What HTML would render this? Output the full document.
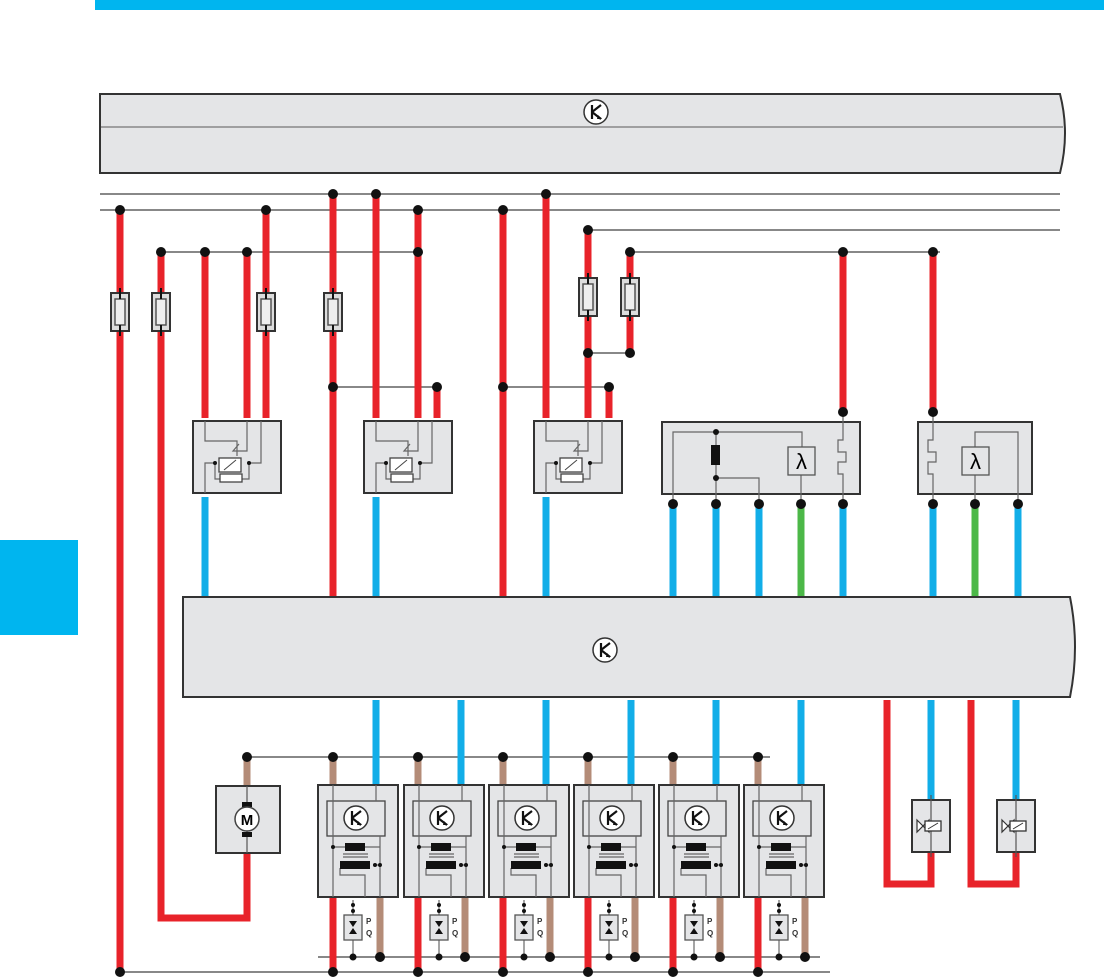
<!DOCTYPE html>
<html><head><meta charset="utf-8"><style>
html,body{margin:0;padding:0;background:#fff;width:1104px;height:980px;overflow:hidden}
svg{display:block}
text{font-family:"Liberation Sans",sans-serif}
</style></head><body>
<svg width="1104" height="980" viewBox="0 0 1104 980" xmlns="http://www.w3.org/2000/svg">
<defs>
<g id="tr"><circle cx="0" cy="0" r="12" fill="#fff" stroke="#333" stroke-width="1.5"/><path d="M-4,-7V7M-4,0L5,-7M-4,0L5,7" stroke="#111" stroke-width="2.2" fill="none"/><path d="M2,3L6,7L1,7z" fill="#111"/></g>
<g id="fuse"><rect x="-9" y="-19" width="18" height="38" fill="#ddd" stroke="#333" stroke-width="2"/><rect x="-5" y="-13" width="10" height="26" fill="#eee" stroke="#555" stroke-width="1.5"/><path d="M0,-24V-13M0,13V24" stroke="#111" stroke-width="2"/></g>
<g id="relay"><rect x="0" y="0" width="88" height="72" fill="#e4e5e7" stroke="#333" stroke-width="2"/>
<path d="M12,0V20H44V35M54,0V30H40L46,23M68,0V42H56M12,72V42H22M22,42V58H56V42" stroke="#666" stroke-width="1.2" fill="none"/>
<rect x="26" y="37" width="22" height="14" fill="#fff" stroke="#444" stroke-width="1.3"/><path d="M31,49L43,39" stroke="#444"/>
<rect x="27" y="53" width="22" height="8" fill="#fff" stroke="#444" stroke-width="1.3"/>
<circle cx="22" cy="42" r="2" fill="#111"/><circle cx="56" cy="42" r="2" fill="#111"/></g>
<g id="mod"><rect x="0" y="0" width="80" height="112" fill="#e4e5e7" stroke="#333" stroke-width="2"/>
<rect x="9" y="16" width="58" height="35" fill="#e4e5e7" stroke="#444" stroke-width="1.3"/>
<use href="#tr" x="38" y="33"/>
<path d="M15,0V112M58,0V16M62,51V112M62,51V62H47M15,62H27M22,83V90H47V112M55,80H62" stroke="#666" stroke-width="1.2" fill="none"/>
<rect x="27" y="58" width="20" height="8" fill="#111"/><path d="M25,69H50M25,72H50" stroke="#666" stroke-width="1.2"/>
<rect x="22" y="76" width="30" height="8" fill="#111"/><circle cx="15" cy="62" r="2" fill="#111"/><circle cx="62" cy="80" r="2" fill="#111"/><circle cx="57" cy="80" r="2" fill="#111"/></g>
<g id="pq"><path d="M35,115V172" stroke="#666" stroke-width="1.2"/><rect x="26" y="130" width="18" height="25" fill="#e4e5e7" stroke="#555" stroke-width="1.3"/>
<path d="M31,136H39L35,142zM31,149H39L35,143z" fill="#111"/><circle cx="35" cy="120" r="2" fill="#111"/><circle cx="35" cy="126" r="2" fill="#111"/><circle cx="35" cy="172" r="3.5" fill="#111"/></g>
<g id="valve"><rect x="0" y="0" width="38" height="52" fill="#e4e5e7" stroke="#333" stroke-width="2"/><path d="M19,-5V57" stroke="#555" stroke-width="1.2"/><path d="M5,20L11,26L5,32zM17,20L11,26L17,32z" fill="#fff" stroke="#333" stroke-width="1.2"/><rect x="13" y="21" width="16" height="10" fill="#fff" stroke="#333" stroke-width="1.3"/><path d="M16,29L26,23" stroke="#333"/></g>
</defs>
<rect x="95" y="0" width="1009" height="10" fill="#00b5ef"/>
<rect x="0" y="540" width="78" height="95" fill="#00b5ef"/>
<!-- top bus -->
<path d="M100,94H1060Q1070,133 1060,173H100z" fill="#e4e5e7" stroke="#333" stroke-width="2"/>
<path d="M101,127H1063" stroke="#888" stroke-width="1.5"/>
<use href="#tr" x="596" y="112"/>
<!-- gray lines -->
<g stroke="#888" stroke-width="2" fill="none">
<path d="M100,194H1060M100,210H1060M588,230H1060M630,252H940M161,252H418M333,387H437M503,387H609M588,353H630M247,757H770M318,957H820M120,972H830"/>
</g>
<!-- red wires -->
<g stroke="#e8232a" stroke-width="7" fill="none">
<path d="M120,210V972M161,252V918H247V853M205,252V418M247,252V418M266,210V418M333,194V596M376,194V418M418,210V418M437,387V418M503,210V596M546,194V418M588,230V418M609,387V418M630,252V353M843,252V412M933,252V412"/>
<path d="M333,897V972M418,897V972M503,897V972M588,897V972M673,897V972M758,897V972"/>
<path d="M887,700V884H931V852M971,700V884H1016V852"/>
</g>
<g stroke="#12aee8" stroke-width="7" fill="none">
<path d="M205,497V596M376,497V596M546,497V596M673,500V596M716,500V596M759,500V596M843,500V596M933,500V596M1018,500V596"/>
<path d="M376,700V785M461,700V785M546,700V785M631,700V785M716,700V785M801,700V785M931,700V800M1016,700V800"/>
</g>
<g stroke="#4cb848" stroke-width="7"><path d="M801,500V596M975,500V596"/></g>
<g stroke="#b48c78" stroke-width="7"><path d="M247,757V786M333,757V785M418,757V785M503,757V785M588,757V785M673,757V785M758,757V785M380,897V957M465,897V957M550,897V957M635,897V957M720,897V957M805,897V957"/></g>
<!-- fuses -->
<use href="#fuse" x="120" y="312"/><use href="#fuse" x="161" y="312"/><use href="#fuse" x="266" y="312"/><use href="#fuse" x="333" y="312"/><use href="#fuse" x="588" y="297"/><use href="#fuse" x="630" y="297"/>
<!-- relays -->
<use href="#relay" x="193" y="421"/><use href="#relay" x="364" y="421"/><use href="#relay" x="534" y="421"/>
<!-- sensor boxes -->
<rect x="662" y="422" width="198" height="72" fill="#e4e5e7" stroke="#333" stroke-width="2"/>
<path d="M673,500V432H802V447M716,432V500M716,478H759V500M801,475V500M843,412V440H838V452H846V462H838V474H843V500" stroke="#666" stroke-width="1.2" fill="none"/>
<rect x="711" y="445" width="9" height="20" fill="#111"/><circle cx="716" cy="432" r="3" fill="#111"/><circle cx="716" cy="478" r="3" fill="#111"/>
<rect x="788" y="447" width="27" height="28" fill="#e4e5e7" stroke="#555" stroke-width="1.3"/><text x="801.5" y="469" font-size="22" font-family="Liberation Serif,serif" text-anchor="middle">λ</text>
<rect x="918" y="422" width="114" height="72" fill="#e4e5e7" stroke="#333" stroke-width="2"/>
<path d="M933,412V440H928V452H936V462H928V474H933V500M975,475V432H1018V500M975,447V500" stroke="#666" stroke-width="1.2" fill="none"/>
<rect x="962" y="447" width="27" height="28" fill="#e4e5e7" stroke="#555" stroke-width="1.3"/><text x="975.5" y="469" font-size="22" font-family="Liberation Serif,serif" text-anchor="middle">λ</text>
<!-- ECU -->
<path d="M183,597H1070Q1080,647 1070,697H183z" fill="#e4e5e7" stroke="#333" stroke-width="2"/>
<use href="#tr" x="605" y="650"/>
<!-- motor -->
<rect x="216" y="786" width="64" height="67" fill="#e4e5e7" stroke="#333" stroke-width="2"/>
<path d="M247,786V853" stroke="#555" stroke-width="1.2"/><rect x="242" y="802" width="10" height="5" fill="#111"/><rect x="242" y="832" width="10" height="5" fill="#111"/>
<circle cx="247" cy="819" r="12" fill="#fff" stroke="#444" stroke-width="1.5"/><text x="247" y="825" font-size="15" font-weight="bold" text-anchor="middle">M</text>
<!-- modules -->
<use href="#mod" x="318" y="785"/><use href="#mod" x="404" y="785"/><use href="#mod" x="489" y="785"/><use href="#mod" x="574" y="785"/><use href="#mod" x="659" y="785"/><use href="#mod" x="744" y="785"/>
<use href="#pq" x="318" y="785"/><use href="#pq" x="404" y="785"/><use href="#pq" x="489" y="785"/><use href="#pq" x="574" y="785"/><use href="#pq" x="659" y="785"/><use href="#pq" x="744" y="785"/>
<g font-size="8" font-weight="bold" fill="#333">
<text x="366" y="924">P</text><text x="366" y="936">Q</text><text x="452" y="924">P</text><text x="452" y="936">Q</text><text x="537" y="924">P</text><text x="537" y="936">Q</text><text x="622" y="924">P</text><text x="622" y="936">Q</text><text x="707" y="924">P</text><text x="707" y="936">Q</text><text x="792" y="924">P</text><text x="792" y="936">Q</text>
</g>
<use href="#valve" x="912" y="800"/><use href="#valve" x="997" y="800"/>
<!-- dots -->
<g fill="#111">
<circle cx="120" cy="210" r="5"/><circle cx="161" cy="252" r="5"/><circle cx="205" cy="252" r="5"/><circle cx="247" cy="252" r="5"/><circle cx="266" cy="210" r="5"/><circle cx="333" cy="194" r="5"/><circle cx="376" cy="194" r="5"/><circle cx="418" cy="210" r="5"/><circle cx="418" cy="252" r="5"/><circle cx="503" cy="210" r="5"/><circle cx="546" cy="194" r="5"/><circle cx="588" cy="230" r="5"/><circle cx="630" cy="252" r="5"/><circle cx="588" cy="353" r="5"/><circle cx="630" cy="353" r="5"/><circle cx="843" cy="252" r="5"/><circle cx="933" cy="252" r="5"/>
<circle cx="333" cy="387" r="5"/><circle cx="437" cy="387" r="5"/><circle cx="503" cy="387" r="5"/><circle cx="609" cy="387" r="5"/>
<circle cx="843" cy="412" r="5"/><circle cx="933" cy="412" r="5"/>
<circle cx="673" cy="504" r="5"/><circle cx="716" cy="504" r="5"/><circle cx="759" cy="504" r="5"/><circle cx="801" cy="504" r="5"/><circle cx="843" cy="504" r="5"/><circle cx="933" cy="504" r="5"/><circle cx="975" cy="504" r="5"/><circle cx="1018" cy="504" r="5"/>
<circle cx="247" cy="757" r="5"/><circle cx="333" cy="757" r="5"/><circle cx="418" cy="757" r="5"/><circle cx="503" cy="757" r="5"/><circle cx="588" cy="757" r="5"/><circle cx="673" cy="757" r="5"/><circle cx="758" cy="757" r="5"/>
<circle cx="120" cy="972" r="5"/><circle cx="333" cy="972" r="5"/><circle cx="418" cy="972" r="5"/><circle cx="503" cy="972" r="5"/><circle cx="588" cy="972" r="5"/><circle cx="673" cy="972" r="5"/><circle cx="758" cy="972" r="5"/>
<circle cx="380" cy="957" r="5"/><circle cx="465" cy="957" r="5"/><circle cx="550" cy="957" r="5"/><circle cx="635" cy="957" r="5"/><circle cx="720" cy="957" r="5"/><circle cx="805" cy="957" r="5"/>
</g>
</svg>
</body></html>
